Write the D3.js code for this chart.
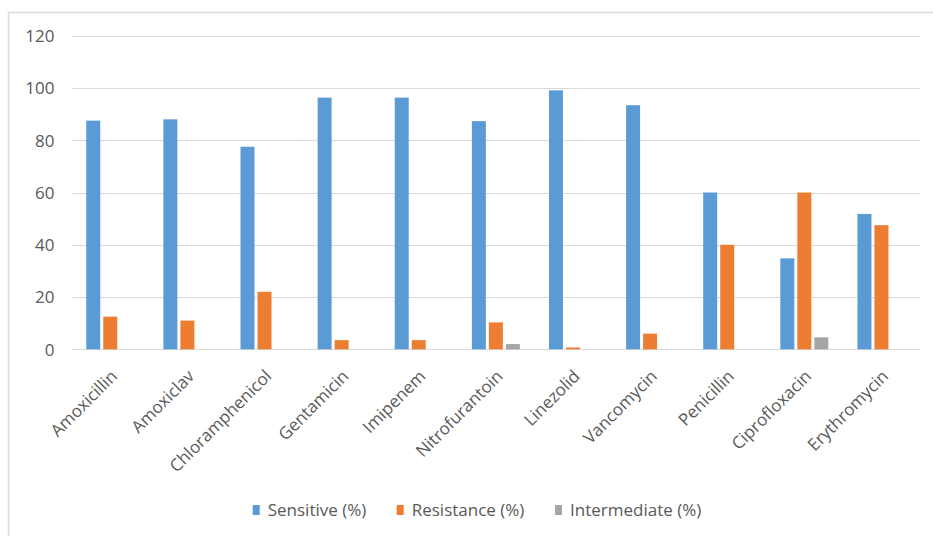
<!DOCTYPE html>
<html>
<head>
<meta charset="utf-8">
<script src="https://cdn.jsdelivr.net/npm/d3@7"></script>
<style>
  html, body { margin: 0; padding: 0; background: #fff; }
  svg text { font-family: "Open Sans", "Noto Sans", sans-serif; fill: #595959; }
</style>
</head>
<body>
<svg id="chart" width="933" height="536"></svg>
<script>
// Antibiotic susceptibility by drug
const categories = ["Amoxicillin", "Amoxiclav", "Chloramphenicol", "Gentamicin", "Imipenem",
  "Nitrofurantoin", "Linezolid", "Vancomycin", "Penicillin", "Ciprofloxacin", "Erythromycin"];
const seriesNames = ["Sensitive (%)", "Resistance (%)", "Intermediate (%)"];
const sensitive    = [87.5, 88, 77.5, 96.3, 96.3, 87.3, 99.1, 93.4, 60, 34.8, 51.8];
const resistance   = [12.5, 11, 22, 3.5, 3.5, 10.3, 0.7, 6, 40, 60, 47.5];
const intermediate = [0, 0, 0, 0, 0, 2, 0, 0, 0, 4.6, 0];
const yTicks = [0, 20, 40, 60, 80, 100, 120];
const colors = ["#5B9BD5", "#ED7D31", "#A5A5A5"];

const seriesValues = [sensitive, resistance, intermediate];
const svg = d3.select("#chart");

// outer chart frame
svg.append("rect")
  .attr("x", 8.5).attr("y", 12.5)
  .attr("width", 940).attr("height", 540)
  .attr("fill", "none").attr("stroke", "#d9d9d9").attr("stroke-width", 1.5);

const plotLeft = 71.7, plotRight = 920, plotTop = 35.7, plotBottom = 349.3;

const y = d3.scaleLinear().domain([0, 120]).range([plotBottom, plotTop]);
const x0 = d3.scaleBand().domain(categories).range([plotLeft, plotRight]).padding(0);
const x1 = d3.scaleBand().domain(seriesNames).range([-24, 24])
  .paddingInner(3 / 17).paddingOuter(0);

// horizontal gridlines
svg.append("g").selectAll("line").data(yTicks).join("line")
  .attr("x1", plotLeft).attr("x2", plotRight)
  .attr("y1", d => Math.round(y(d)) + 0.5).attr("y2", d => Math.round(y(d)) + 0.5)
  .attr("stroke", "#d9d9d9").attr("stroke-width", 1.2);

// y axis labels
const yAxis = d3.axisLeft(y).tickValues(yTicks).tickSize(0).tickPadding(0);
const gy = svg.append("g").attr("transform", "translate(54.5,0)").call(yAxis);
gy.select(".domain").remove();
gy.selectAll("text")
  .attr("font-size", 17)
  .attr("font-family", "'Open Sans', sans-serif")
  .attr("fill", "#595959")
  .attr("dy", "0.35em");

// bars
const rows = categories.map((c, i) => ({ cat: c, vals: seriesValues.map((s, k) => ({ key: seriesNames[k], v: s[i], k })) }));
const groups = svg.append("g").selectAll("g").data(rows).join("g")
  .attr("transform", d => `translate(${x0(d.cat) + x0.bandwidth() / 2},0)`);
groups.selectAll("rect").data(d => d.vals.filter(e => e.v > 0)).join("rect")
  .attr("x", d => x1(d.key))
  .attr("width", x1.bandwidth())
  .attr("y", d => y(d.v))
  .attr("height", d => y(0) - y(d.v))
  .attr("fill", d => colors[d.k]);

// x axis labels, rotated
const xAxis = d3.axisBottom(x0).tickSize(0).tickPadding(0);
const gx = svg.append("g").attr("transform", `translate(0,${plotBottom})`).call(xAxis);
gx.select(".domain").remove();
gx.selectAll("text")
  .attr("font-size", 17)
  .attr("font-family", "'Open Sans', sans-serif")
  .attr("fill", "#595959")
  .attr("text-anchor", "end")
  .attr("y", 0)
  .attr("dy", 0)
  .attr("transform", "translate(8,28) rotate(-45)");

// legend
const legendX = [252.7, 396.7, 555];
const legend = svg.append("g").selectAll("g").data(seriesNames).join("g")
  .attr("transform", (d, i) => `translate(${legendX[i]},510)`);
legend.append("rect")
  .attr("x", 0).attr("y", -5).attr("width", 7).attr("height", 10)
  .attr("fill", (d, i) => colors[i]);
legend.append("text")
  .attr("x", 15).attr("y", 0).attr("dy", "0.35em")
  .attr("font-size", 17)
  .text(d => d);
</script>
</body>
</html>
